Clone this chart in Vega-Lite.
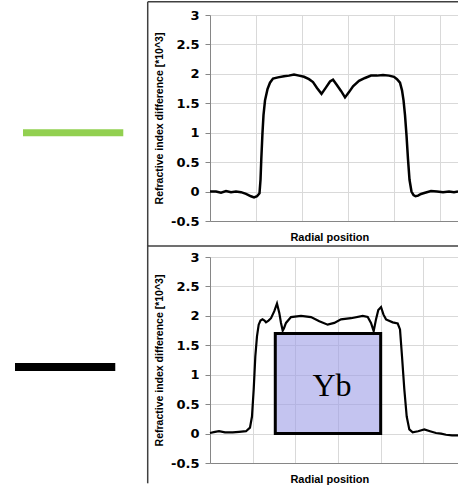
{
  "$schema": "https://vega.github.io/schema/vega-lite/v6.json",
  "padding": {"left": 10, "top": 1, "right": 0, "bottom": 0},
  "background": "white",
  "bounds": "flush",
  "spacing": 36,
  "config": {
    "view": {"stroke": null},
    "axis": {
      "domainColor": "#868686", "domainWidth": 1, "tickColor": "#868686", "tickSize": 5,
      "gridColor": "#d9d9d9", "gridWidth": 1,
      "labelFont": "DejaVu Sans", "labelFontWeight": "bold", "labelFontSize": 13, "labelColor": "#000000", "labelPadding": 6,
      "titleFont": "Liberation Sans", "titleFontWeight": "bold", "titleColor": "#000000"
    },
    "axisX": {"titleFontSize": 11},
    "axisY": {"titleFontSize": 10.5}
  },
  "datasets": {
    "top": [
      {"x": 0.000, "y": 0.0}, {"x": 0.130, "y": 0.0}, {"x": 0.239, "y": -0.02}, {"x": 0.348, "y": 0.01},
      {"x": 0.457, "y": -0.01}, {"x": 0.565, "y": 0.0}, {"x": 0.674, "y": -0.01}, {"x": 0.783, "y": -0.04},
      {"x": 0.891, "y": -0.08}, {"x": 0.957, "y": -0.1}, {"x": 1.022, "y": -0.08}, {"x": 1.076, "y": -0.03},
      {"x": 1.098, "y": 0.2}, {"x": 1.115, "y": 0.55}, {"x": 1.141, "y": 1.0}, {"x": 1.163, "y": 1.3},
      {"x": 1.196, "y": 1.55}, {"x": 1.250, "y": 1.74}, {"x": 1.304, "y": 1.85}, {"x": 1.370, "y": 1.92},
      {"x": 1.478, "y": 1.94}, {"x": 1.609, "y": 1.96}, {"x": 1.717, "y": 1.97}, {"x": 1.826, "y": 1.99},
      {"x": 1.935, "y": 1.97}, {"x": 2.043, "y": 1.95}, {"x": 2.152, "y": 1.91}, {"x": 2.239, "y": 1.86},
      {"x": 2.326, "y": 1.76}, {"x": 2.424, "y": 1.66}, {"x": 2.522, "y": 1.77}, {"x": 2.609, "y": 1.87},
      {"x": 2.674, "y": 1.9}, {"x": 2.750, "y": 1.82}, {"x": 2.848, "y": 1.71}, {"x": 2.935, "y": 1.6},
      {"x": 3.022, "y": 1.69}, {"x": 3.109, "y": 1.79}, {"x": 3.239, "y": 1.88}, {"x": 3.370, "y": 1.93},
      {"x": 3.500, "y": 1.97}, {"x": 3.630, "y": 1.97}, {"x": 3.761, "y": 1.98}, {"x": 3.891, "y": 1.97},
      {"x": 4.000, "y": 1.95}, {"x": 4.065, "y": 1.91}, {"x": 4.130, "y": 1.85}, {"x": 4.174, "y": 1.72},
      {"x": 4.207, "y": 1.55}, {"x": 4.239, "y": 1.3}, {"x": 4.272, "y": 0.95}, {"x": 4.304, "y": 0.55},
      {"x": 4.337, "y": 0.2}, {"x": 4.380, "y": 0.0}, {"x": 4.424, "y": -0.06}, {"x": 4.467, "y": -0.08},
      {"x": 4.522, "y": -0.07}, {"x": 4.587, "y": -0.04}, {"x": 4.674, "y": -0.02}, {"x": 4.804, "y": 0.01},
      {"x": 4.935, "y": 0.0}, {"x": 5.065, "y": -0.01}, {"x": 5.196, "y": 0.0}, {"x": 5.304, "y": -0.01},
      {"x": 5.391, "y": 0.0}
    ],
    "bottom": [
      {"x": 0.000, "y": 0.01}, {"x": 0.117, "y": 0.03}, {"x": 0.211, "y": 0.04}, {"x": 0.352, "y": 0.02},
      {"x": 0.532, "y": 0.02}, {"x": 0.680, "y": 0.03}, {"x": 0.844, "y": 0.04}, {"x": 0.937, "y": 0.1},
      {"x": 0.984, "y": 0.29}, {"x": 1.024, "y": 0.75}, {"x": 1.062, "y": 1.31}, {"x": 1.101, "y": 1.65},
      {"x": 1.141, "y": 1.85}, {"x": 1.183, "y": 1.92}, {"x": 1.230, "y": 1.94}, {"x": 1.277, "y": 1.92},
      {"x": 1.312, "y": 1.89}, {"x": 1.371, "y": 1.92}, {"x": 1.430, "y": 1.96}, {"x": 1.507, "y": 2.08},
      {"x": 1.570, "y": 2.21}, {"x": 1.624, "y": 2.05}, {"x": 1.664, "y": 1.88}, {"x": 1.704, "y": 1.75},
      {"x": 1.734, "y": 1.79}, {"x": 1.781, "y": 1.88}, {"x": 1.898, "y": 1.98}, {"x": 2.133, "y": 2.0},
      {"x": 2.367, "y": 1.98}, {"x": 2.562, "y": 1.91}, {"x": 2.758, "y": 1.85}, {"x": 2.913, "y": 1.88},
      {"x": 3.070, "y": 1.94}, {"x": 3.304, "y": 1.96}, {"x": 3.579, "y": 2.0}, {"x": 3.696, "y": 1.98},
      {"x": 3.773, "y": 1.88}, {"x": 3.836, "y": 1.74}, {"x": 3.890, "y": 1.94}, {"x": 3.944, "y": 2.1},
      {"x": 4.008, "y": 2.15}, {"x": 4.066, "y": 2.02}, {"x": 4.125, "y": 1.94}, {"x": 4.282, "y": 1.89},
      {"x": 4.399, "y": 1.87}, {"x": 4.453, "y": 1.77}, {"x": 4.500, "y": 1.31}, {"x": 4.554, "y": 0.75},
      {"x": 4.610, "y": 0.29}, {"x": 4.671, "y": 0.07}, {"x": 4.750, "y": 0.02}, {"x": 4.875, "y": 0.04},
      {"x": 5.023, "y": 0.07}, {"x": 5.156, "y": 0.04}, {"x": 5.297, "y": 0.01}, {"x": 5.414, "y": 0.0},
      {"x": 5.531, "y": -0.02}, {"x": 5.672, "y": -0.03}, {"x": 5.812, "y": -0.03}
    ],
    "topFrame": [
      {"x": -1.354, "x2": 5.391, "y": 3.224, "y2": 3.224},
      {"x": -1.354, "x2": -1.354, "y": 3.224, "y2": -0.925},
      {"x": -1.354, "x2": 5.391, "y": -0.925, "y2": -0.925}
    ],
    "bottomFrame": [
      {"x": -1.46, "x2": -1.46, "y": 3.2, "y2": -0.845}
    ],
    "green": [{"x": -4.065, "x2": -1.885, "y": 1.0, "y2": 1.0}],
    "black": [{"x": -4.57, "x2": -2.22, "y": 1.13, "y2": 1.13}],
    "box": [{"x": 1.53, "x2": 4.0, "y": 0, "y2": 1.7}],
    "label": [{"x": 2.86, "y": 0.63, "t": "Yb"}]
  },
  "vconcat": [
    {
      "width": 248,
      "height": 206,
      "encoding": {
        "x": {"field": "x", "type": "quantitative",
          "scale": {"domain": [0, 5.391], "nice": false, "zero": false},
          "axis": {"values": [0, 1, 2, 3, 4, 5], "labels": false, "ticks": false, "grid": true,
            "title": "Radial position", "titleX": 119.3, "titleY": 19.3, "titleBaseline": "alphabetic", "titleAlign": "center"}},
        "y": {"field": "y", "type": "quantitative",
          "scale": {"domain": [-0.5, 3], "nice": false, "zero": false},
          "axis": {"values": [-0.5, 0, 0.5, 1, 1.5, 2, 2.5, 3], "labelExpr": "toString(datum.value)", "grid": true,
            "title": "Refractive index difference [*10^3]", "titleX": -51, "titleY": 103, "titleAngle": -90,
            "titleAlign": "center", "titleBaseline": "middle"}}
      },
      "layer": [
        {"data": {"name": "top"}, "mark": {"type": "line", "color": "#000000", "strokeWidth": 2.5}},
        {"data": {"name": "topFrame"}, "mark": {"type": "rule", "color": "#404040", "strokeWidth": 1.5},
          "encoding": {"x2": {"field": "x2"}, "y2": {"field": "y2"}}},
        {"data": {"name": "green"}, "mark": {"type": "rule", "color": "#92d050", "strokeWidth": 7},
          "encoding": {"x2": {"field": "x2"}, "y2": {"field": "y2"}}}
      ]
    },
    {
      "width": 248,
      "height": 206,
      "encoding": {
        "x": {"field": "x", "type": "quantitative",
          "scale": {"domain": [0, 5.812], "nice": false, "zero": false},
          "axis": {"values": [0, 1, 2, 3, 4, 5], "labels": false, "ticks": false, "grid": true,
            "title": "Radial position", "titleX": 119.3, "titleY": 19.3, "titleBaseline": "alphabetic", "titleAlign": "center"}},
        "y": {"field": "y", "type": "quantitative",
          "scale": {"domain": [-0.5, 3], "nice": false, "zero": false},
          "axis": {"values": [-0.5, 0, 0.5, 1, 1.5, 2, 2.5, 3], "labelExpr": "toString(datum.value)", "grid": true,
            "title": "Refractive index difference [*10^3]", "titleX": -51, "titleY": 103, "titleAngle": -90,
            "titleAlign": "center", "titleBaseline": "middle"}}
      },
      "layer": [
        {"data": {"name": "bottom"}, "mark": {"type": "line", "color": "#000000", "strokeWidth": 2.2}},
        {"data": {"name": "box"}, "mark": {"type": "rect", "fill": "#9d9de6", "fillOpacity": 0.6, "stroke": "#000000", "strokeWidth": 3},
          "encoding": {"x2": {"field": "x2"}, "y2": {"field": "y2"}}},
        {"data": {"name": "label"}, "mark": {"type": "text", "font": "Liberation Serif", "fontSize": 32, "align": "center", "baseline": "alphabetic", "color": "#000000"},
          "encoding": {"text": {"field": "t"}}},
        {"data": {"name": "bottomFrame"}, "mark": {"type": "rule", "color": "#404040", "strokeWidth": 1.5},
          "encoding": {"x2": {"field": "x2"}, "y2": {"field": "y2"}}},
        {"data": {"name": "black"}, "mark": {"type": "rule", "color": "#000000", "strokeWidth": 8},
          "encoding": {"x2": {"field": "x2"}, "y2": {"field": "y2"}}}
      ]
    }
  ]
}
